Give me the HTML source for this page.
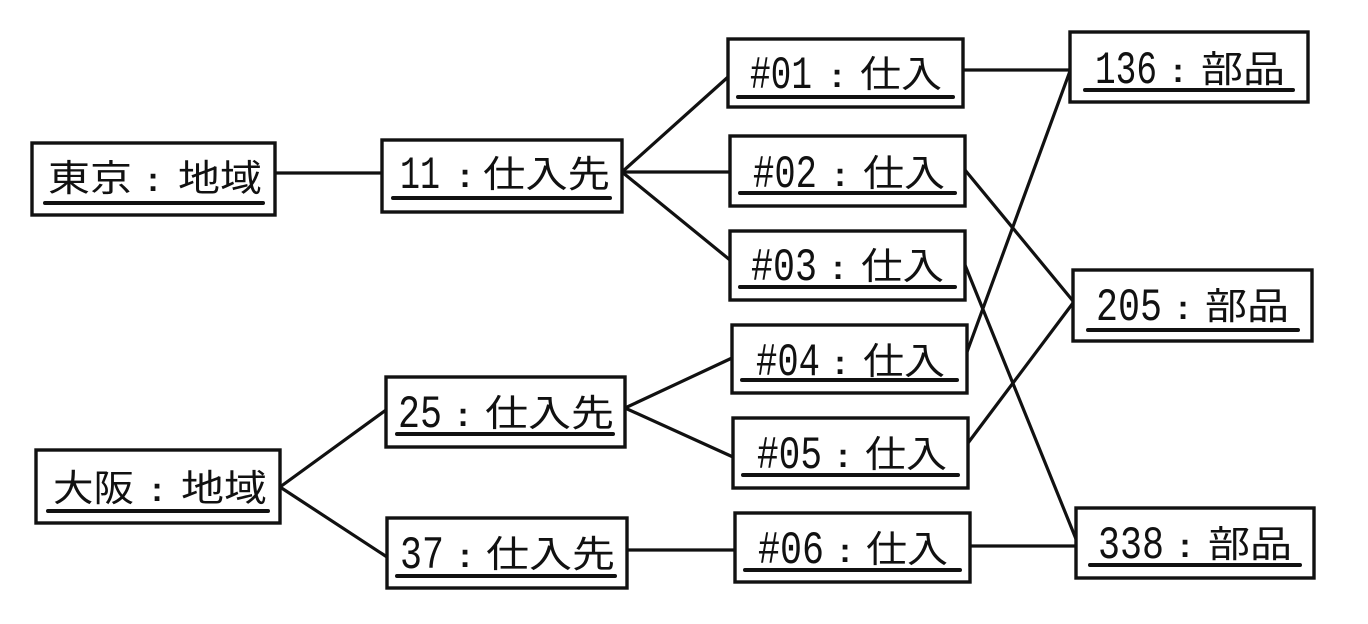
<!DOCTYPE html>
<html>
<head>
<meta charset="utf-8">
<style>
  html,body{margin:0;padding:0;background:#fff;}
  svg{display:block;}
  .id{font-family:"Liberation Mono","DejaVu Sans Mono",monospace;font-size:46px;fill:#111;}
  .n{font-family:"Liberation Sans","Noto Sans CJK JP",sans-serif;font-size:37px;fill:#111;}
  .c{font-family:"Liberation Sans",sans-serif;font-size:34px;font-weight:bold;fill:#111;text-anchor:middle;}
</style>
</head>
<body>
<svg width="1368" height="624" viewBox="0 0 1368 624" xmlns="http://www.w3.org/2000/svg">
  <rect x="0" y="0" width="1368" height="624" fill="#fff"/>
  <!-- connectors -->
  <g stroke="#111" stroke-width="3.2" fill="none" stroke-linecap="round">
    <line x1="275" y1="173" x2="382" y2="173"/>
    <line x1="622" y1="172" x2="728" y2="77"/>
    <line x1="622" y1="172" x2="730" y2="172"/>
    <line x1="622" y1="172" x2="730" y2="260"/>
    <line x1="963" y1="70" x2="1070" y2="70"/>
    <line x1="965" y1="170" x2="1073" y2="301"/>
    <line x1="965" y1="265" x2="1076" y2="539"/>
    <line x1="967" y1="352" x2="1070" y2="71"/>
    <line x1="968" y1="443" x2="1073" y2="303"/>
    <line x1="970" y1="546" x2="1076" y2="546"/>
    <line x1="280" y1="487" x2="386" y2="410"/>
    <line x1="280" y1="487" x2="387" y2="557"/>
    <line x1="625" y1="408" x2="732" y2="358"/>
    <line x1="625" y1="408" x2="733" y2="457"/>
    <line x1="627" y1="550" x2="735" y2="550"/>
  </g>
  <!-- boxes -->
  <g stroke="#111" stroke-width="3.4" fill="#fff">
    <rect x="32" y="143" width="243" height="72"/>
    <rect x="382" y="140" width="240" height="72"/>
    <rect x="728" y="39" width="235" height="68"/>
    <rect x="730" y="136" width="235" height="70"/>
    <rect x="730" y="231" width="235" height="69"/>
    <rect x="732" y="325" width="235" height="68"/>
    <rect x="733" y="418" width="235" height="70"/>
    <rect x="735" y="513" width="235" height="69"/>
    <rect x="1070" y="32" width="238" height="70"/>
    <rect x="1073" y="270" width="239" height="71"/>
    <rect x="1076" y="508" width="238" height="70"/>
    <rect x="36" y="450" width="244" height="73"/>
    <rect x="386" y="377" width="239" height="70"/>
    <rect x="387" y="518" width="240" height="70"/>
  </g>
  <!-- underlines -->
  <g stroke="#111" stroke-width="4" stroke-linecap="round">
    <line x1="45" y1="203" x2="263" y2="203"/>
    <line x1="393" y1="198" x2="610" y2="198"/>
    <line x1="738" y1="97" x2="953" y2="97"/>
    <line x1="740" y1="193" x2="955" y2="193"/>
    <line x1="740" y1="287" x2="955" y2="287"/>
    <line x1="742" y1="380" x2="957" y2="380"/>
    <line x1="743" y1="475" x2="958" y2="475"/>
    <line x1="745" y1="570" x2="960" y2="570"/>
    <line x1="1085" y1="90" x2="1293" y2="90"/>
    <line x1="1088" y1="330" x2="1298" y2="330"/>
    <line x1="1090" y1="565" x2="1300" y2="565"/>
    <line x1="48" y1="511" x2="268" y2="511"/>
    <line x1="397" y1="434" x2="613" y2="434"/>
    <line x1="397" y1="576" x2="615" y2="576"/>
  </g>
  <!-- labels -->
  <text class="n" x="48" y="191" textLength="84" lengthAdjust="spacingAndGlyphs">東京</text>
  <text class="c" x="153" y="191">:</text>
  <text class="n" x="178" y="191" textLength="84" lengthAdjust="spacingAndGlyphs">地域</text>

  <text class="n" x="53" y="501" textLength="81" lengthAdjust="spacingAndGlyphs">大阪</text>
  <text class="c" x="157" y="501">:</text>
  <text class="n" x="181" y="501" textLength="86" lengthAdjust="spacingAndGlyphs">地域</text>

  <text class="id" x="400" y="188" textLength="40" lengthAdjust="spacingAndGlyphs">11</text>
  <text class="c" x="465" y="187">:</text>
  <text class="n" x="483" y="187" textLength="127" lengthAdjust="spacingAndGlyphs">仕入先</text>

  <text class="id" x="398" y="427" textLength="44" lengthAdjust="spacingAndGlyphs">25</text>
  <text class="c" x="463" y="426">:</text>
  <text class="n" x="485" y="426" textLength="129" lengthAdjust="spacingAndGlyphs">仕入先</text>

  <text class="id" x="400" y="568" textLength="44" lengthAdjust="spacingAndGlyphs">37</text>
  <text class="c" x="465" y="567">:</text>
  <text class="n" x="486" y="567" textLength="129" lengthAdjust="spacingAndGlyphs">仕入先</text>

  <text class="id" x="750" y="88" textLength="62" lengthAdjust="spacingAndGlyphs">#01</text>
  <text class="c" x="837" y="87">:</text>
  <text class="n" x="860" y="87" textLength="82" lengthAdjust="spacingAndGlyphs">仕入</text>

  <text class="id" x="753" y="187" textLength="64" lengthAdjust="spacingAndGlyphs">#02</text>
  <text class="c" x="840" y="186">:</text>
  <text class="n" x="863" y="186" textLength="82" lengthAdjust="spacingAndGlyphs">仕入</text>

  <text class="id" x="751" y="280" textLength="66" lengthAdjust="spacingAndGlyphs">#03</text>
  <text class="c" x="838" y="279">:</text>
  <text class="n" x="861" y="279" textLength="83" lengthAdjust="spacingAndGlyphs">仕入</text>

  <text class="id" x="756" y="375" textLength="64" lengthAdjust="spacingAndGlyphs">#04</text>
  <text class="c" x="840" y="374">:</text>
  <text class="n" x="863" y="374" textLength="82" lengthAdjust="spacingAndGlyphs">仕入</text>

  <text class="id" x="757" y="468" textLength="65" lengthAdjust="spacingAndGlyphs">#05</text>
  <text class="c" x="843" y="467">:</text>
  <text class="n" x="865" y="467" textLength="82" lengthAdjust="spacingAndGlyphs">仕入</text>

  <text class="id" x="758" y="563" textLength="66" lengthAdjust="spacingAndGlyphs">#06</text>
  <text class="c" x="845" y="562">:</text>
  <text class="n" x="866" y="562" textLength="82" lengthAdjust="spacingAndGlyphs">仕入</text>

  <text class="id" x="1095" y="83" textLength="62" lengthAdjust="spacingAndGlyphs">136</text>
  <text class="c" x="1178" y="82">:</text>
  <text class="n" x="1201" y="82" textLength="84" lengthAdjust="spacingAndGlyphs">部品</text>

  <text class="id" x="1096" y="320" textLength="66" lengthAdjust="spacingAndGlyphs">205</text>
  <text class="c" x="1183" y="319">:</text>
  <text class="n" x="1205" y="319" textLength="84" lengthAdjust="spacingAndGlyphs">部品</text>

  <text class="id" x="1098" y="558" textLength="66" lengthAdjust="spacingAndGlyphs">338</text>
  <text class="c" x="1185" y="557">:</text>
  <text class="n" x="1208" y="557" textLength="84" lengthAdjust="spacingAndGlyphs">部品</text>
</svg>
</body>
</html>
